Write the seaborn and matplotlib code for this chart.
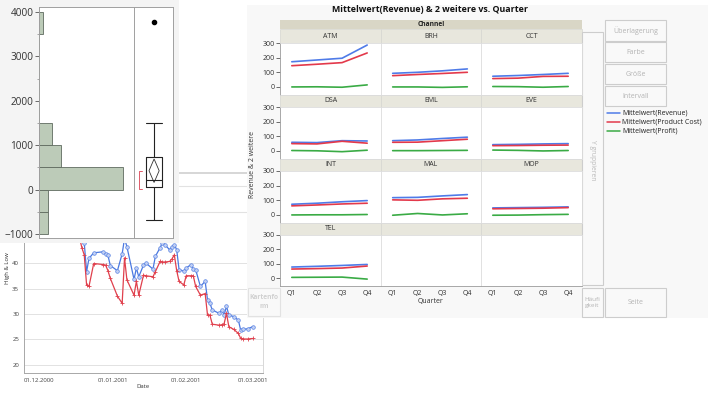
import numpy as np
import pandas as pd
import matplotlib
matplotlib.use("Agg")
import matplotlib.pyplot as plt
from matplotlib.patches import Rectangle, Polygon
from matplotlib.lines import Line2D
import seaborn as sns

sns.set_style("white")
plt.rcParams['font.family'] = ['Open Sans', 'DejaVu Sans']

# --------------------------
# Graph Builder: means per channel and quarter
# --------------------------
channels = ['ATM', 'BRH', 'CCT', 'DSA', 'EML', 'EVE', 'INT', 'MAL', 'MOP', 'TEL']
quarters = ['Q1', 'Q2', 'Q3', 'Q4']
revenue = [[172, 184, 196, 286], [93, 100, 110, 123], [73, 78, 85, 93],
           [59, 57, 70, 68], [70, 75, 85, 94], [43, 45, 48, 50],
           [73, 80, 90, 98], [118, 120, 130, 139], [48, 50, 52, 55],
           [77, 82, 88, 95]]
product_cost = [[145, 155, 166, 232], [77, 85, 92, 100], [57, 60, 72, 73],
                [50, 48, 66, 53], [59, 60, 70, 80], [36, 37, 39, 40],
                [62, 68, 75, 80], [103, 100, 110, 114], [42, 44, 46, 50],
                [63, 66, 70, 84]]
profit = [[0, 1, -2, 14], [0, 0, -3, 1], [3, 2, -2, 3],
          [3, 1, -5, 5], [2, 2, 3, 4], [6, 4, 0, 3],
          [0, 1, 1, 3], [-2, 10, 0, 8], [-2, -1, 2, 4],
          [5, 6, 7, -7]]
series_names = ['Mittelwert(Revenue)', 'Mittelwert(Product Cost)', 'Mittelwert(Profit)']
series_colors = ['#4f7be8', '#e3394b', '#3aab45']

# --------------------------
# Distribution (histogram + box plot)
# --------------------------
bin_edges = [-1000, -500, 0, 500, 1000, 1500, 2000, 2500, 3000, 3500, 4000]
bin_counts = [2, 2, 19, 5, 3, 0, 0, 0, 0, 1]
box_q1, box_median, box_q3 = 60, 210, 740
whisker_lo, whisker_hi = -680, 1500
outliers = [3775]
mean_val, mean_lo, mean_hi = 425, 160, 690
shortest_half = [20, 430]

# --------------------------
# High & Low over Date
# --------------------------
dates = ['2000-12-18', '2000-12-19', '2000-12-20', '2000-12-21', '2000-12-22',
         '2000-12-24', '2000-12-28', '2000-12-29', '2000-12-30', '2000-12-31',
         '2001-01-03', '2001-01-05', '2001-01-06', '2001-01-07', '2001-01-10',
         '2001-01-11', '2001-01-12', '2001-01-14', '2001-01-15', '2001-01-18',
         '2001-01-19', '2001-01-21', '2001-01-22', '2001-01-23', '2001-01-25',
         '2001-01-26', '2001-01-27', '2001-01-28', '2001-01-29', '2001-01-31',
         '2001-02-01', '2001-02-03', '2001-02-04', '2001-02-05', '2001-02-07',
         '2001-02-09', '2001-02-10', '2001-02-11', '2001-02-12', '2001-02-15',
         '2001-02-16', '2001-02-17', '2001-02-18', '2001-02-19', '2001-02-21',
         '2001-02-23', '2001-02-24', '2001-02-25', '2001-02-27', '2001-03-01']
high = [47.0, 46.5, 44.0, 38.3, 40.9, 42.0, 42.2, 41.8, 41.5, 39.5,
        38.5, 41.8, 44.8, 43.2, 36.8, 39.0, 37.3, 39.6, 40.0, 38.8,
        41.3, 43.0, 44.0, 43.6, 42.6, 43.2, 43.6, 42.6, 38.7, 38.4,
        39.0, 39.7, 38.8, 38.7, 35.4, 36.4, 32.8, 32.1, 30.8, 30.1,
        30.8, 29.8, 31.5, 29.8, 29.5, 28.8, 26.8, 27.0, 27.1, 27.5]
low = [45.0, 43.0, 41.6, 35.7, 35.4, 39.9, 39.7, 39.6, 38.5, 37.0,
       33.5, 32.1, 41.0, 36.7, 33.7, 36.4, 33.7, 37.6, 37.5, 37.3,
       38.3, 40.3, 40.2, 40.2, 40.3, 40.8, 41.6, 38.5, 36.4, 35.7,
       37.5, 37.5, 37.5, 35.4, 33.7, 34.0, 29.8, 29.8, 28.0, 27.8,
       27.9, 28.1, 30.1, 27.5, 27.0, 26.2, 25.2, 25.1, 25.1, 25.2]
date_ticks = ['2000-12-01', '2001-01-01', '2001-02-01', '2001-03-01']

W, H = 708, 394
fig = plt.figure(figsize=(W / 100, H / 100), dpi=100)


def px_axes(x0, y0, x1, y1, z):
    ax = fig.add_axes([x0 / W, 1 - y1 / H, (x1 - x0) / W, (y1 - y0) / H])
    ax.set_zorder(z)
    return ax


def rect(x0, y0, x1, y1, fc, ec='none', lw=0.6, z=2):
    fig.add_artist(Rectangle((x0 / W, 1 - y1 / H), (x1 - x0) / W, (y1 - y0) / H,
                             transform=fig.transFigure, facecolor=fc,
                             edgecolor=ec, lw=lw, zorder=z))


def txt(x, y, s, z=3, **kw):
    fig.text(x / W, 1 - y / H, s, zorder=z, **kw)


def hline(x0, x1, y, color, lw, z=1.5):
    fig.add_artist(Line2D([x0 / W, x1 / W], [1 - y / H, 1 - y / H],
                          transform=fig.transFigure, color=color, lw=lw, zorder=z))


# --------------------------
# Line chart (lowest window)
# --------------------------
hl = pd.DataFrame({'Date': pd.to_datetime(dates), 'High': high, 'Low': low})
ax_l = px_axes(24, 232, 263, 373, 1)
ax_l.set_facecolor('white')
ax_l.yaxis.grid(True, color='#e2e2e2', lw=0.7)
sns.lineplot(data=hl, x='Date', y='High', ax=ax_l, color='#4a78e0', lw=0.9,
             marker='o', markersize=2.6, markerfacecolor='#c3d1f4',
             markeredgecolor='#5a84e4', markeredgewidth=0.5)
sns.lineplot(data=hl, x='Date', y='Low', ax=ax_l, color='#e0404d', lw=0.9,
             marker='+', markersize=3.2, markeredgecolor='#e0404d',
             markeredgewidth=0.6)
t0 = pd.Timestamp('2000-12-01')
ax_l.set_xlim(t0 - pd.Timedelta(days=6.4), t0 + pd.Timedelta(days=94.4))
ax_l.set_ylim(18.43, 46.08)
ax_l.set_yticks([20, 25, 30, 35, 40])
ax_l.set_xticks(pd.to_datetime(date_ticks))
ax_l.set_xticklabels([pd.Timestamp(d).strftime('%d.%m.%Y') for d in date_ticks])
ax_l.tick_params(labelsize=4.3, colors='#444444', length=2, width=0.5, pad=1.5)
ax_l.set_xlabel('')
ax_l.set_ylabel('')
ax_l.spines['top'].set_visible(False)
for s in ['left', 'bottom']:
    ax_l.spines[s].set_color('#a8a8a8')
    ax_l.spines[s].set_linewidth(0.7)
ax_l.spines['right'].set_color('#d8d8d8')
ax_l.spines['right'].set_linewidth(0.7)
txt(8, 268, 'High & Low', z=1, fontsize=4.3, rotation=90, ha='center', va='center', color='#333333')
txt(143, 386, 'Date', z=1, fontsize=4.3, ha='center', va='center', color='#333333')

# faint lines of the window behind
hline(179, 247, 173, '#cfcfcf', 1.2)
hline(179, 247, 186, '#e2e2e2', 0.8)
hline(179, 247, 212, '#e2e2e2', 0.8)

# --------------------------
# Graph Builder window
# --------------------------
rect(247, 5, 708, 318, '#f8f8f8', z=2)
txt(430, 10, 'Mittelwert(Revenue) & 2 weitere vs. Quarter', fontsize=6.4,
    fontweight='bold', ha='center', va='center', color='#111111')
rect(280, 20, 582, 29, '#d9d6c6', z=3)
txt(431, 24.5, 'Channel', fontsize=4.8, fontweight='bold', ha='center', va='center', color='#222222')

rows = []
for i, ch in enumerate(channels):
    for name, vals in zip(series_names, [revenue, product_cost, profit]):
        for q, v in enumerate(vals[i]):
            rows.append((ch, q, name, v))
gb = pd.DataFrame(rows, columns=['Channel', 'qpos', 'Series', 'Value'])

col_x = [(280, 381), (381, 481), (481, 582)]
row_y = [(29, 43, 95), (95, 107, 159), (159, 171, 223), (223, 235, 286)]
palette = dict(zip(series_names, series_colors))

for r, (st, pt, pb) in enumerate(row_y):
    for c, (x0, x1) in enumerate(col_x):
        idx = r * 3 + c
        rect(x0, st, x1, pt, '#e8e7dd', ec='#d6d6d0', lw=0.5, z=3)
        ax = px_axes(x0, pt, x1, pb, 3)
        ax.set_facecolor('white')
        if idx < len(channels):
            ch = channels[idx]
            txt((x0 + x1) / 2, (st + pt) / 2, ch, fontsize=5, ha='center',
                va='center', color='#333333', z=3.5)
            sns.lineplot(data=gb[gb['Channel'] == ch], x='qpos', y='Value',
                         hue='Series', hue_order=series_names, palette=palette,
                         lw=1.2, legend=False, ax=ax)
        ax.set_xlim(-0.47, 3.55)
        ax.set_ylim(-55, 300)
        ax.set_yticks([0, 100, 200, 300])
        ax.set_xticks(range(len(quarters)))
        ax.set_xlabel('')
        ax.set_ylabel('')
        for s in ax.spines.values():
            s.set_color('#dcdcdc')
            s.set_linewidth(0.6)
        if c == 0:
            ax.spines['left'].set_color('#9a9a9a')
            ax.tick_params(axis='y', labelsize=5, colors='#333333', length=3,
                           width=0.5, pad=1, left=True)
        else:
            ax.set_yticklabels([])
            ax.tick_params(axis='y', left=False)
        if r == len(row_y) - 1:
            ax.spines['bottom'].set_color('#9a9a9a')
            ax.set_xticklabels(quarters)
            ax.tick_params(axis='x', labelsize=5, colors='#333333', length=0,
                           pad=3, bottom=True)
        else:
            ax.set_xticklabels([])
            ax.tick_params(axis='x', bottom=False)

txt(253, 165, 'Revenue & 2 weitere', fontsize=5, rotation=90, ha='center',
    va='center', color='#333333')
txt(431, 302, 'Quarter', fontsize=5, ha='center', va='center', color='#333333')

# drop zones and buttons
btn_ec = '#cdcdcd'
btn_tc = '#b4b4b4'
rect(582, 32, 603, 285, '#f9f9f9', ec=btn_ec, lw=0.8, z=3)
txt(592.5, 160, 'Y gruppieren', fontsize=4.8, rotation=-90, ha='center',
    va='center', color='#b8b8b8')
for label, y0, y1 in [('Überlagerung', 20, 41), ('Farbe', 42, 62),
                      ('Größe', 64, 84), ('Intervall', 86, 106)]:
    rect(605, y0, 666, y1, '#f9f9f9', ec=btn_ec, lw=0.8, z=3)
    txt(635.5, (y0 + y1) / 2, label, fontsize=5, ha='center', va='center', color=btn_tc)
rect(582, 288, 603, 317, '#f9f9f9', ec=btn_ec, lw=0.8, z=3)
txt(592.5, 302.5, 'Häufi\ngkeit', fontsize=4.6, ha='center', va='center',
    color=btn_tc, linespacing=1.1)
rect(605, 288, 666, 317, '#f9f9f9', ec=btn_ec, lw=0.8, z=3)
txt(635.5, 302.5, 'Seite', fontsize=5, ha='center', va='center', color=btn_tc)
rect(248, 288, 280, 316, '#f9f9f9', ec='#e2e2e2', lw=0.8, z=3)
txt(264, 302, 'Kartenfo\nrm', fontsize=4.8, fontweight='bold', ha='center',
    va='center', color='#d0d0d0', linespacing=1.3)

# legend
for k, (name, col) in enumerate(zip(series_names, series_colors)):
    y = 113 + k * 9
    fig.add_artist(Line2D([607 / W, 620 / W], [1 - y / H, 1 - y / H],
                          transform=fig.transFigure, color=col, lw=1.1, zorder=3))
    txt(622, y, name, fontsize=5, ha='left', va='center', color='#222222')

# --------------------------
# Distribution window (top)
# --------------------------
rect(0, 0, 179, 243, '#f4f4f4', z=4)
ax_h = px_axes(39, 7, 134, 238, 5)
ax_h.set_facecolor('white')
centers = [(a + b) / 2 for a, b in zip(bin_edges[:-1], bin_edges[1:])]
sns.histplot(y=centers, weights=bin_counts, bins=bin_edges, ax=ax_h,
             color='#bccbb8', edgecolor='#5f6b5f', linewidth=0.6, alpha=1)
ax_h.set_xlim(0, 21.5)
ax_h.set_ylim(-1090, 4112)
ax_h.set_xticks([])
ax_h.set_yticks([-1000, 0, 1000, 2000, 3000, 4000])
ax_h.set_yticks(np.arange(-500, 4000, 1000), minor=True)
ax_h.tick_params(axis='y', which='major', labelsize=7.2, colors='#333333',
                 length=3, width=0.5, pad=1, left=True)
ax_h.tick_params(axis='y', which='minor', length=1.8, width=0.5, left=True, colors='#888888')
ax_h.set_xlabel('')
ax_h.set_ylabel('')
for s in ax_h.spines.values():
    s.set_color('#a0a0a0')
    s.set_linewidth(0.7)

ax_b = px_axes(134, 7, 173, 238, 5)
ax_b.set_facecolor('white')
stats = [{'med': box_median, 'q1': box_q1, 'q3': box_q3, 'whislo': whisker_lo,
          'whishi': whisker_hi, 'fliers': outliers}]
ax_b.bxp(stats, positions=[0.03], widths=0.82, capwidths=0.82,
         boxprops=dict(color='#222222', lw=0.8),
         whiskerprops=dict(color='#222222', lw=0.8),
         capprops=dict(color='#222222', lw=0.8),
         medianprops=dict(color='#222222', lw=0.8),
         flierprops=dict(marker='o', markerfacecolor='black', markeredgecolor='black',
                         markersize=3))
ax_b.add_patch(Polygon([[0.03, mean_hi], [0.29, mean_val], [0.03, mean_lo],
                        [-0.23, mean_val]], closed=True, fill=False,
                       edgecolor='#333333', lw=0.6))
ax_b.plot([-0.58, -0.72, -0.72, -0.58],
          [shortest_half[1], shortest_half[1], shortest_half[0], shortest_half[0]],
          color='#e05a6a', lw=0.7)
ax_b.set_xlim(-1, 1)
ax_b.set_ylim(-1090, 4112)
ax_b.set_xticks([])
ax_b.set_yticks([])
for s in ax_b.spines.values():
    s.set_color('#a0a0a0')
    s.set_linewidth(0.7)

fig.savefig('out.png', dpi=100)
